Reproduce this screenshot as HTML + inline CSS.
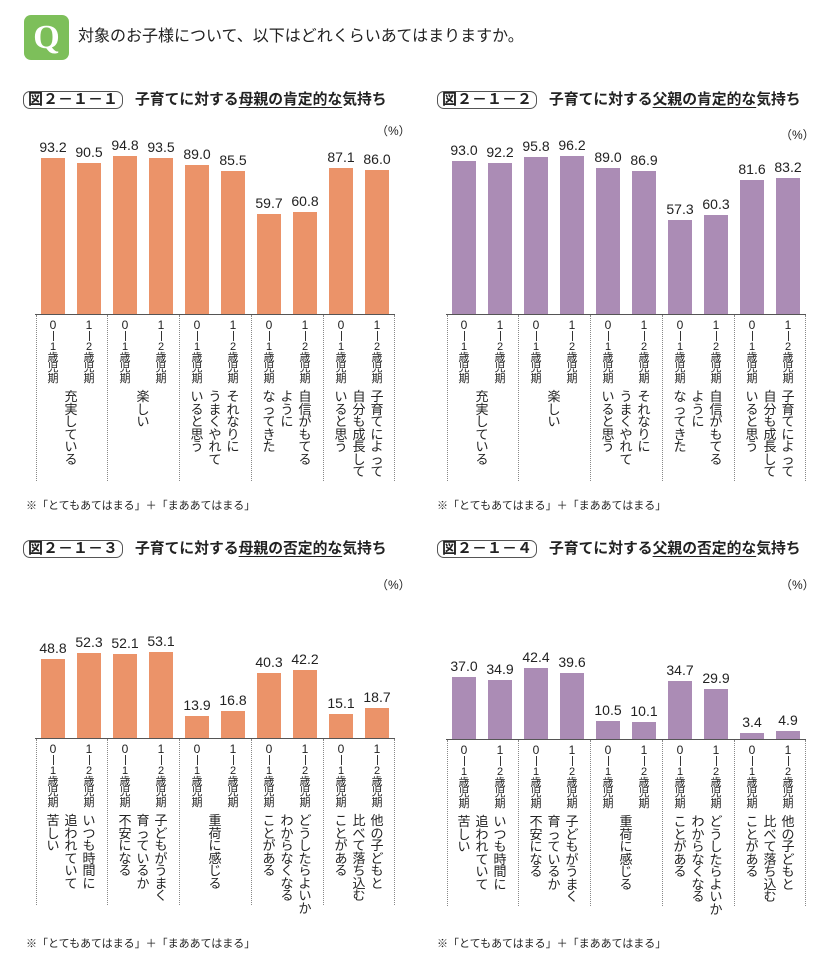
<!DOCTYPE html>
<html><head><meta charset="utf-8"><style>
*{margin:0;padding:0;box-sizing:border-box}
body{width:835px;height:959px;background:#fff;position:relative;overflow:hidden;font-family:"Liberation Sans","Noto Sans CJK JP",sans-serif;color:#222}
div{position:absolute}
.w{width:0;height:0}
.b{width:24px}
.o .b{background:#eb9369}
.p .b{background:#ab8cb5}
.v{width:40px;text-align:center;font-size:14px;line-height:16px;color:#222}
.ax{left:-6px;width:360px;top:0;height:1px;background:#555}
.d{top:1px;height:166px;border-left:1px dotted #888}
.z{width:14px;text-align:center;font-size:12px;line-height:12px;top:5px}
.l{width:1px;height:10px;top:17px;background:#333}
.y{font-size:11px;line-height:10.5px;width:14px;top:28px;text-align:center;word-break:break-all;color:#222}
.c{font-size:13px;line-height:12.5px;width:14px;top:77px;text-align:center;word-break:break-all}
.box{height:18px;border:1.3px solid #555;border-radius:7px;font-size:15px;font-weight:bold;line-height:15px;padding:0 4px;white-space:nowrap}
.t{font-size:14.8px;font-weight:bold;white-space:nowrap;line-height:18px}
.t u{text-decoration:underline;text-underline-offset:3px}
.pc{font-size:12px}
.fn{font-size:11px;white-space:nowrap}
</style></head><body>

<div style="left:24px;top:15px;width:45px;height:45px;background:#7dbf5a;border-radius:7px;color:#fff;font-size:34px;font-weight:bold;text-align:center;line-height:45px;font-family:'Liberation Serif',serif">Q</div>
<div style="left:78px;top:27px;font-size:16px;white-space:nowrap;line-height:20px">対象のお子様について、以下はどれくらいあてはまりますか。</div>

<div class="box" style="left:23px;top:91px">図２－１－１</div>
<div class="t" style="left:135px;top:91px">子育てに対する<u>母親の肯定的な</u>気持ち</div>
<div class="pc" style="left:376px;top:122px">（%）</div>
<div class="fn" style="left:26px;top:497px">※「とてもあてはまる」＋「まああてはまる」</div>

<div class="box" style="left:437px;top:91px">図２－１－２</div>
<div class="t" style="left:549px;top:91px">子育てに対する<u>父親の肯定的な</u>気持ち</div>
<div class="pc" style="left:780px;top:126px">（%）</div>
<div class="fn" style="left:437px;top:497px">※「とてもあてはまる」＋「まああてはまる」</div>

<div class="box" style="left:23px;top:540px">図２－１－３</div>
<div class="t" style="left:135px;top:540px">子育てに対する<u>母親の否定的な</u>気持ち</div>
<div class="pc" style="left:376px;top:576px">（%）</div>
<div class="fn" style="left:26px;top:935px">※「とてもあてはまる」＋「まああてはまる」</div>

<div class="box" style="left:437px;top:540px">図２－１－４</div>
<div class="t" style="left:549px;top:540px">子育てに対する<u>父親の否定的な</u>気持ち</div>
<div class="pc" style="left:780px;top:576px">（%）</div>
<div class="fn" style="left:437px;top:935px">※「とてもあてはまる」＋「まああてはまる」</div>

<!-- Chart 1 -->
<div class="w o" style="left:41px;top:314px">
<div class="b" style="left:0;top:-156px;height:156px"></div><div class="v" style="left:-8px;top:-175px">93.2</div>
<div class="b" style="left:36px;top:-151px;height:151px"></div><div class="v" style="left:28px;top:-170px">90.5</div>
<div class="b" style="left:72px;top:-158px;height:158px"></div><div class="v" style="left:64px;top:-177px">94.8</div>
<div class="b" style="left:108px;top:-156px;height:156px"></div><div class="v" style="left:100px;top:-175px">93.5</div>
<div class="b" style="left:144px;top:-149px;height:149px"></div><div class="v" style="left:136px;top:-168px">89.0</div>
<div class="b" style="left:180px;top:-143px;height:143px"></div><div class="v" style="left:172px;top:-162px">85.5</div>
<div class="b" style="left:216px;top:-100px;height:100px"></div><div class="v" style="left:208px;top:-119px">59.7</div>
<div class="b" style="left:252px;top:-102px;height:102px"></div><div class="v" style="left:244px;top:-121px">60.8</div>
<div class="b" style="left:288px;top:-146px;height:146px"></div><div class="v" style="left:280px;top:-165px">87.1</div>
<div class="b" style="left:324px;top:-144px;height:144px"></div><div class="v" style="left:316px;top:-163px">86.0</div>
<div class="ax"></div>
<div class="d" style="left:-5px"></div><div class="d" style="left:66px"></div><div class="d" style="left:138px"></div><div class="d" style="left:210px"></div><div class="d" style="left:282px"></div><div class="d" style="left:353px"></div>
<div class="z" style="left:5px">0</div><div class="l" style="left:12px"></div><div class="y" style="left:5px">1歳児期</div>
<div class="z" style="left:41px">1</div><div class="l" style="left:48px"></div><div class="y" style="left:41px">2歳児期</div>
<div class="z" style="left:77px">0</div><div class="l" style="left:84px"></div><div class="y" style="left:77px">1歳児期</div>
<div class="z" style="left:113px">1</div><div class="l" style="left:120px"></div><div class="y" style="left:113px">2歳児期</div>
<div class="z" style="left:149px">0</div><div class="l" style="left:156px"></div><div class="y" style="left:149px">1歳児期</div>
<div class="z" style="left:185px">1</div><div class="l" style="left:192px"></div><div class="y" style="left:185px">2歳児期</div>
<div class="z" style="left:221px">0</div><div class="l" style="left:228px"></div><div class="y" style="left:221px">1歳児期</div>
<div class="z" style="left:257px">1</div><div class="l" style="left:264px"></div><div class="y" style="left:257px">2歳児期</div>
<div class="z" style="left:293px">0</div><div class="l" style="left:300px"></div><div class="y" style="left:293px">1歳児期</div>
<div class="z" style="left:329px">1</div><div class="l" style="left:336px"></div><div class="y" style="left:329px">2歳児期</div>
<div class="c" style="left:23px">充実している</div>
<div class="c" style="left:95px">楽しい</div>
<div class="c" style="left:185px">それなりに</div><div class="c" style="left:167px">うまくやれて</div><div class="c" style="left:149px">いると思う</div>
<div class="c" style="left:257px">自信がもてる</div><div class="c" style="left:239px">ように</div><div class="c" style="left:221px">なってきた</div>
<div class="c" style="left:329px">子育てによって</div><div class="c" style="left:311px">自分も成長して</div><div class="c" style="left:293px">いると思う</div>
</div>

<!-- Chart 2 -->
<div class="w p" style="left:452px;top:314px">
<div class="b" style="left:0;top:-153px;height:153px"></div><div class="v" style="left:-8px;top:-172px">93.0</div>
<div class="b" style="left:36px;top:-151px;height:151px"></div><div class="v" style="left:28px;top:-170px">92.2</div>
<div class="b" style="left:72px;top:-157px;height:157px"></div><div class="v" style="left:64px;top:-176px">95.8</div>
<div class="b" style="left:108px;top:-158px;height:158px"></div><div class="v" style="left:100px;top:-177px">96.2</div>
<div class="b" style="left:144px;top:-146px;height:146px"></div><div class="v" style="left:136px;top:-165px">89.0</div>
<div class="b" style="left:180px;top:-143px;height:143px"></div><div class="v" style="left:172px;top:-162px">86.9</div>
<div class="b" style="left:216px;top:-94px;height:94px"></div><div class="v" style="left:208px;top:-113px">57.3</div>
<div class="b" style="left:252px;top:-99px;height:99px"></div><div class="v" style="left:244px;top:-118px">60.3</div>
<div class="b" style="left:288px;top:-134px;height:134px"></div><div class="v" style="left:280px;top:-153px">81.6</div>
<div class="b" style="left:324px;top:-136px;height:136px"></div><div class="v" style="left:316px;top:-155px">83.2</div>
<div class="ax"></div>
<div class="d" style="left:-5px"></div><div class="d" style="left:66px"></div><div class="d" style="left:138px"></div><div class="d" style="left:210px"></div><div class="d" style="left:282px"></div><div class="d" style="left:353px"></div>
<div class="z" style="left:5px">0</div><div class="l" style="left:12px"></div><div class="y" style="left:5px">1歳児期</div>
<div class="z" style="left:41px">1</div><div class="l" style="left:48px"></div><div class="y" style="left:41px">2歳児期</div>
<div class="z" style="left:77px">0</div><div class="l" style="left:84px"></div><div class="y" style="left:77px">1歳児期</div>
<div class="z" style="left:113px">1</div><div class="l" style="left:120px"></div><div class="y" style="left:113px">2歳児期</div>
<div class="z" style="left:149px">0</div><div class="l" style="left:156px"></div><div class="y" style="left:149px">1歳児期</div>
<div class="z" style="left:185px">1</div><div class="l" style="left:192px"></div><div class="y" style="left:185px">2歳児期</div>
<div class="z" style="left:221px">0</div><div class="l" style="left:228px"></div><div class="y" style="left:221px">1歳児期</div>
<div class="z" style="left:257px">1</div><div class="l" style="left:264px"></div><div class="y" style="left:257px">2歳児期</div>
<div class="z" style="left:293px">0</div><div class="l" style="left:300px"></div><div class="y" style="left:293px">1歳児期</div>
<div class="z" style="left:329px">1</div><div class="l" style="left:336px"></div><div class="y" style="left:329px">2歳児期</div>
<div class="c" style="left:23px">充実している</div>
<div class="c" style="left:95px">楽しい</div>
<div class="c" style="left:185px">それなりに</div><div class="c" style="left:167px">うまくやれて</div><div class="c" style="left:149px">いると思う</div>
<div class="c" style="left:257px">自信がもてる</div><div class="c" style="left:239px">ように</div><div class="c" style="left:221px">なってきた</div>
<div class="c" style="left:329px">子育てによって</div><div class="c" style="left:311px">自分も成長して</div><div class="c" style="left:293px">いると思う</div>
</div>

<!-- Chart 3 -->
<div class="w o" style="left:41px;top:738px">
<div class="b" style="left:0;top:-79px;height:79px"></div><div class="v" style="left:-8px;top:-98px">48.8</div>
<div class="b" style="left:36px;top:-85px;height:85px"></div><div class="v" style="left:28px;top:-104px">52.3</div>
<div class="b" style="left:72px;top:-84px;height:84px"></div><div class="v" style="left:64px;top:-103px">52.1</div>
<div class="b" style="left:108px;top:-86px;height:86px"></div><div class="v" style="left:100px;top:-105px">53.1</div>
<div class="b" style="left:144px;top:-22px;height:22px"></div><div class="v" style="left:136px;top:-41px">13.9</div>
<div class="b" style="left:180px;top:-27px;height:27px"></div><div class="v" style="left:172px;top:-46px">16.8</div>
<div class="b" style="left:216px;top:-65px;height:65px"></div><div class="v" style="left:208px;top:-84px">40.3</div>
<div class="b" style="left:252px;top:-68px;height:68px"></div><div class="v" style="left:244px;top:-87px">42.2</div>
<div class="b" style="left:288px;top:-24px;height:24px"></div><div class="v" style="left:280px;top:-43px">15.1</div>
<div class="b" style="left:324px;top:-30px;height:30px"></div><div class="v" style="left:316px;top:-49px">18.7</div>
<div class="ax"></div>
<div class="d" style="left:-5px"></div><div class="d" style="left:66px"></div><div class="d" style="left:138px"></div><div class="d" style="left:210px"></div><div class="d" style="left:282px"></div><div class="d" style="left:353px"></div>
<div class="z" style="left:5px">0</div><div class="l" style="left:12px"></div><div class="y" style="left:5px">1歳児期</div>
<div class="z" style="left:41px">1</div><div class="l" style="left:48px"></div><div class="y" style="left:41px">2歳児期</div>
<div class="z" style="left:77px">0</div><div class="l" style="left:84px"></div><div class="y" style="left:77px">1歳児期</div>
<div class="z" style="left:113px">1</div><div class="l" style="left:120px"></div><div class="y" style="left:113px">2歳児期</div>
<div class="z" style="left:149px">0</div><div class="l" style="left:156px"></div><div class="y" style="left:149px">1歳児期</div>
<div class="z" style="left:185px">1</div><div class="l" style="left:192px"></div><div class="y" style="left:185px">2歳児期</div>
<div class="z" style="left:221px">0</div><div class="l" style="left:228px"></div><div class="y" style="left:221px">1歳児期</div>
<div class="z" style="left:257px">1</div><div class="l" style="left:264px"></div><div class="y" style="left:257px">2歳児期</div>
<div class="z" style="left:293px">0</div><div class="l" style="left:300px"></div><div class="y" style="left:293px">1歳児期</div>
<div class="z" style="left:329px">1</div><div class="l" style="left:336px"></div><div class="y" style="left:329px">2歳児期</div>
<div class="c" style="left:41px">いつも時間に</div><div class="c" style="left:23px">追われていて</div><div class="c" style="left:5px">苦しい</div>
<div class="c" style="left:113px">子どもがうまく</div><div class="c" style="left:95px">育っているか</div><div class="c" style="left:77px">不安になる</div>
<div class="c" style="left:167px">重荷に感じる</div>
<div class="c" style="left:257px">どうしたらよいか</div><div class="c" style="left:239px">わからなくなる</div><div class="c" style="left:221px">ことがある</div>
<div class="c" style="left:329px">他の子どもと</div><div class="c" style="left:311px">比べて落ち込む</div><div class="c" style="left:293px">ことがある</div>
</div>

<!-- Chart 4 -->
<div class="w p" style="left:452px;top:739px">
<div class="b" style="left:0;top:-62px;height:62px"></div><div class="v" style="left:-8px;top:-81px">37.0</div>
<div class="b" style="left:36px;top:-59px;height:59px"></div><div class="v" style="left:28px;top:-78px">34.9</div>
<div class="b" style="left:72px;top:-71px;height:71px"></div><div class="v" style="left:64px;top:-90px">42.4</div>
<div class="b" style="left:108px;top:-66px;height:66px"></div><div class="v" style="left:100px;top:-85px">39.6</div>
<div class="b" style="left:144px;top:-18px;height:18px"></div><div class="v" style="left:136px;top:-37px">10.5</div>
<div class="b" style="left:180px;top:-17px;height:17px"></div><div class="v" style="left:172px;top:-36px">10.1</div>
<div class="b" style="left:216px;top:-58px;height:58px"></div><div class="v" style="left:208px;top:-77px">34.7</div>
<div class="b" style="left:252px;top:-50px;height:50px"></div><div class="v" style="left:244px;top:-69px">29.9</div>
<div class="b" style="left:288px;top:-6px;height:6px"></div><div class="v" style="left:280px;top:-25px">3.4</div>
<div class="b" style="left:324px;top:-8px;height:8px"></div><div class="v" style="left:316px;top:-27px">4.9</div>
<div class="ax"></div>
<div class="d" style="left:-5px"></div><div class="d" style="left:66px"></div><div class="d" style="left:138px"></div><div class="d" style="left:210px"></div><div class="d" style="left:282px"></div><div class="d" style="left:353px"></div>
<div class="z" style="left:5px">0</div><div class="l" style="left:12px"></div><div class="y" style="left:5px">1歳児期</div>
<div class="z" style="left:41px">1</div><div class="l" style="left:48px"></div><div class="y" style="left:41px">2歳児期</div>
<div class="z" style="left:77px">0</div><div class="l" style="left:84px"></div><div class="y" style="left:77px">1歳児期</div>
<div class="z" style="left:113px">1</div><div class="l" style="left:120px"></div><div class="y" style="left:113px">2歳児期</div>
<div class="z" style="left:149px">0</div><div class="l" style="left:156px"></div><div class="y" style="left:149px">1歳児期</div>
<div class="z" style="left:185px">1</div><div class="l" style="left:192px"></div><div class="y" style="left:185px">2歳児期</div>
<div class="z" style="left:221px">0</div><div class="l" style="left:228px"></div><div class="y" style="left:221px">1歳児期</div>
<div class="z" style="left:257px">1</div><div class="l" style="left:264px"></div><div class="y" style="left:257px">2歳児期</div>
<div class="z" style="left:293px">0</div><div class="l" style="left:300px"></div><div class="y" style="left:293px">1歳児期</div>
<div class="z" style="left:329px">1</div><div class="l" style="left:336px"></div><div class="y" style="left:329px">2歳児期</div>
<div class="c" style="left:41px">いつも時間に</div><div class="c" style="left:23px">追われていて</div><div class="c" style="left:5px">苦しい</div>
<div class="c" style="left:113px">子どもがうまく</div><div class="c" style="left:95px">育っているか</div><div class="c" style="left:77px">不安になる</div>
<div class="c" style="left:167px">重荷に感じる</div>
<div class="c" style="left:257px">どうしたらよいか</div><div class="c" style="left:239px">わからなくなる</div><div class="c" style="left:221px">ことがある</div>
<div class="c" style="left:329px">他の子どもと</div><div class="c" style="left:311px">比べて落ち込む</div><div class="c" style="left:293px">ことがある</div>
</div>

</body></html>
